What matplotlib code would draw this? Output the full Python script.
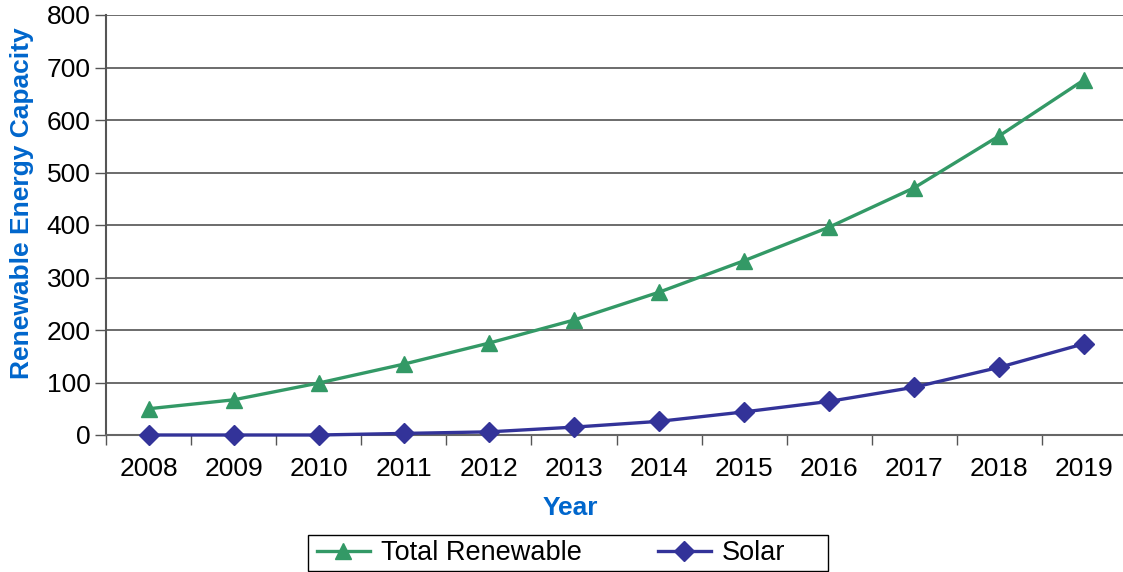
import matplotlib.pyplot as plt
from matplotlib.patches import Rectangle

plt.rcParams['font.family'] = ['Liberation Sans', 'DejaVu Sans']

years = ['2008', '2009', '2010', '2011', '2012', '2013',
         '2014', '2015', '2016', '2017', '2018', '2019']
total_renewable = [50, 67, 99, 135, 175, 219, 272, 332, 396, 471, 570, 677]
solar = [0, 0, 0, 3, 6, 15, 26, 44, 64, 91, 129, 174]

W, H = 1123, 572
fig = plt.figure(figsize=(W / 100, H / 100), dpi=100)
# plot area runs off the right edge in the reference
ax = fig.add_axes([106 / W, 1 - 435 / H, 1021 / W, 420 / H])

x = list(range(len(years)))
ax.plot(x, total_renewable, '-^', color='#339966', lw=2.4, ms=12,
        label='Total Renewable', clip_on=False, zorder=3)
ax.plot(x, solar, '-D', color='#333399', lw=2.4, ms=10.5,
        label='Solar', clip_on=False, zorder=3)

ax.set_xlim(-0.5, 11.5)
ax.set_ylim(0, 800)
ax.set_yticks(range(0, 801, 100))
ax.set_xticks(x)
ax.set_xticklabels(years)
ax.set_xticks([i + 0.5 for i in range(-1, 12)], minor=True)
ax.tick_params(axis='x', which='major', length=0, pad=16, labelsize=19)
ax.tick_params(axis='x', which='minor', length=7, width=1, color='#555555', direction='out')
ax.tick_params(axis='y', length=8, width=1, color='#555555', labelsize=19, pad=3)

ax.grid(axis='y', color='#444444', lw=1.1)
ax.set_axisbelow(True)
for s in ['right', 'top']:
    ax.spines[s].set_visible(False)
ax.spines['left'].set_color('#555555')
ax.spines['bottom'].set_color('#666666')
ax.spines['left'].set_linewidth(1.5)
ax.spines['bottom'].set_linewidth(1.5)

fig.text(22 / W, 1 - 203 / H, 'Renewable Energy Capacity', color='#0066CC',
         fontsize=19, fontweight='bold', rotation=90, ha='center', va='center')
fig.text(570 / W, 1 - 508 / H, 'Year', color='#0066CC', fontsize=19,
         fontweight='bold', ha='center', va='center')

# legend entries without frame; the wider Excel-style box is drawn separately
leg = fig.legend(loc='center left', bbox_to_anchor=(317 / W, 1 - 553 / H), ncol=2,
                 fontsize=19.5, frameon=False, handlelength=1.95,
                 columnspacing=2.8, borderpad=0, handletextpad=0.42,
                 borderaxespad=0)
fig.patches.append(Rectangle((308 / W, 1 - 571 / H), 520 / W, 36 / H,
                             transform=fig.transFigure, fill=False,
                             edgecolor='black', lw=1.0))

fig.savefig('out.png', dpi=100)
